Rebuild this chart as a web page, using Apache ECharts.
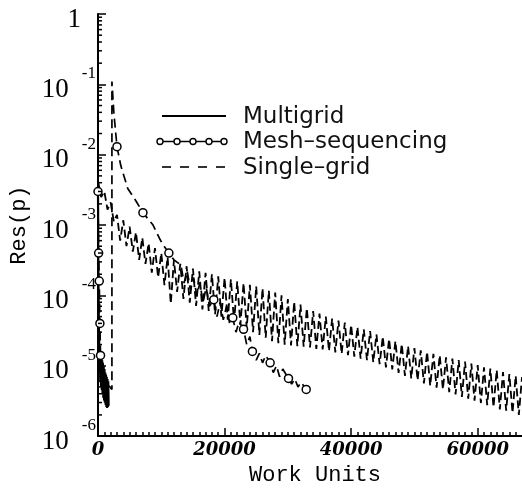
<!DOCTYPE html>
<html>
<head>
<meta charset="utf-8">
<script src="https://cdn.jsdelivr.net/npm/echarts@6/dist/echarts.min.js"></script>
<style>
  html, body { margin: 0; padding: 0; background: #fff; }
  #chart { width: 522px; height: 491px; }
</style>
</head>
<body>
<div id="chart"></div>
<script>
// work units vs residual
const multigrid = [
  [0, 3e-3], [40, 4e-4], [80, 1.5e-4], [120, 5e-5], [160, 2.5e-5], [220, 1.8e-5],
  [260, 8e-6], [300, 1.6e-5], [360, 6e-6], [420, 1.5e-5], [480, 5e-6], [540, 1.3e-5],
  [600, 4.5e-6], [660, 1.2e-5], [720, 4e-6], [780, 1.1e-5], [840, 3.5e-6], [900, 1e-5],
  [960, 3.2e-6], [1020, 9e-6], [1080, 3e-6], [1140, 8e-6], [1200, 2.8e-6], [1260, 7.5e-6],
  [1320, 2.6e-6], [1380, 7e-6], [1440, 2.5e-6], [1500, 6.5e-6], [1560, 2.6e-6], [1620, 6e-6],
  [1680, 2.7e-6]
];

// third column: 1 = draw a circle at this point
const meshSeq = [
  [0, 3e-3, 1], [100, 4e-4, 1], [200, 1.6e-4, 1], [300, 4e-5, 1], [400, 1.4e-5, 1],
  [700, 9e-6, 0], [1200, 6e-6, 0], [2200, 4.6e-6, 0], [2200, 1.1e-1, 0], [2500, 4e-2, 0],
  [3000, 1.3e-2, 1], [3600, 7e-3, 0], [4700, 3.3e-3, 0], [6000, 2.2e-3, 0], [7100, 1.5e-3, 1],
  [8700, 1e-3, 0], [9700, 6.5e-4, 0], [10300, 5.2e-4, 0], [11200, 4e-4, 1], [12000, 3.2e-4, 0],
  [13100, 2.7e-4, 0], [13600, 1.5e-4, 0], [14100, 2.2e-4, 0], [14600, 1.2e-4, 0], [15100, 1.8e-4, 0],
  [15600, 1e-4, 0], [16100, 1.5e-4, 0], [16600, 8e-5, 0], [17100, 1.3e-4, 0], [17600, 7e-5, 0],
  [18300, 8.7e-5, 1], [18800, 5e-5, 0], [19300, 8e-5, 0], [19800, 4.5e-5, 0], [20300, 7e-5, 0],
  [20800, 4e-5, 0], [21300, 4.8e-5, 1], [21800, 3e-5, 0], [22300, 4.2e-5, 0], [23000, 3.3e-5, 1],
  [23500, 2e-5, 0], [24000, 2.6e-5, 0], [24400, 1.6e-5, 1], [25000, 1.2e-5, 0], [25500, 1.5e-5, 0],
  [26000, 1.1e-5, 0], [26500, 1.4e-5, 0], [27200, 1.1e-5, 1], [27700, 8e-6, 0], [28200, 1e-5, 0],
  [28700, 7e-6, 0], [29200, 9e-6, 0], [30100, 6.6e-6, 1], [30600, 5.5e-6, 0], [31100, 6.5e-6, 0],
  [31600, 5e-6, 0], [32100, 5.8e-6, 0], [32900, 4.6e-6, 1]
];

const singleGrid = [
  [0, 4.2e-3], [500, 2.5e-3], [1000, 3.0e-3], [1500, 1.66e-3], [2000, 2.1e-3], [2500, 1.12e-3],
  [3000, 1.4e-3], [3500, 6.0e-4], [4000, 1.17e-3], [4500, 5.0e-4], [5000, 9.5e-4], [5500, 4.2e-4],
  [6000, 7.9e-4], [6500, 3.2e-4], [7000, 6.6e-4], [7500, 2.8e-4], [8000, 5.5e-4], [8500, 2.1e-4],
  [9000, 4.7e-4], [9500, 1.8e-4], [10000, 4.0e-4], [10500, 1.4e-4], [11000, 3.5e-4], [11500, 7.6e-5],
  [12000, 3.2e-4], [12500, 1.12e-4], [13000, 2.8e-4], [13500, 8.9e-5], [14000, 2.6e-4], [14500, 7.9e-5],
  [15000, 2.4e-4], [15500, 7.1e-5], [16000, 2.2e-4], [16500, 6.3e-5], [17000, 2.1e-4], [17500, 6.0e-5],
  [18000, 2.0e-4], [18500, 5.4e-5], [19000, 1.86e-4], [19500, 5.0e-5], [20000, 1.78e-4], [20500, 4.5e-5],
  [21000, 1.7e-4], [21500, 4.2e-5], [22000, 1.58e-4], [22500, 3.8e-5], [23000, 1.5e-4], [23500, 3.4e-5],
  [24000, 1.41e-4], [24500, 3.0e-5], [25000, 1.35e-4], [25500, 2.75e-5], [26000, 1.26e-4], [26500, 2.5e-5],
  [27000, 1.17e-4], [27500, 2.24e-5], [28000, 1.1e-4], [28500, 2.1e-5], [29000, 1.0e-4], [29500, 2.0e-5],
  [30000, 8.9e-5], [30500, 1.95e-5], [31000, 8.1e-5], [31500, 1.9e-5], [32000, 7.4e-5], [32500, 1.86e-5],
  [33000, 6.6e-5], [33500, 1.82e-5], [34000, 6.0e-5], [34500, 1.74e-5], [35000, 5.5e-5], [35500, 1.7e-5],
  [36000, 5.0e-5], [36500, 1.62e-5], [37000, 4.7e-5], [37500, 1.55e-5], [38000, 4.4e-5], [38500, 1.48e-5],
  [39000, 4.1e-5], [39500, 1.41e-5], [40000, 3.8e-5], [40500, 1.35e-5], [41000, 3.55e-5], [41500, 1.26e-5],
  [42000, 3.3e-5], [42500, 1.2e-5], [43000, 3.1e-5], [43500, 1.12e-5], [44000, 2.8e-5], [44500, 1.05e-5],
  [45000, 2.6e-5], [45500, 9.5e-6], [46000, 2.4e-5], [46500, 8.9e-6], [47000, 2.24e-5], [47500, 7.9e-6],
  [48000, 2.04e-5], [48500, 7.2e-6], [49000, 1.9e-5], [49500, 6.6e-6], [50000, 1.78e-5], [50500, 6.2e-6],
  [51000, 1.66e-5], [51500, 5.6e-6], [52000, 1.58e-5], [52500, 5.2e-6], [53000, 1.48e-5], [53500, 4.9e-6],
  [54000, 1.41e-5], [54500, 4.6e-6], [55000, 1.32e-5], [55500, 4.2e-6], [56000, 1.26e-5], [56500, 3.9e-6],
  [57000, 1.2e-5], [57500, 3.6e-6], [58000, 1.15e-5], [58500, 3.4e-6], [59000, 1.07e-5], [59500, 3.2e-6],
  [60000, 1.02e-5], [60500, 2.95e-6], [61000, 9.5e-6], [61500, 2.75e-6], [62000, 9.1e-6], [62500, 2.57e-6],
  [63000, 8.7e-6], [63500, 2.4e-6], [64000, 8.1e-6], [64500, 2.3e-6], [65000, 7.6e-6], [65500, 2.14e-6],
  [66000, 7.2e-6], [66500, 2.0e-6], [67000, 6.9e-6]
];

const seriesNames = ['Multigrid', 'Mesh\u2013sequencing', 'Single\u2013grid'];
const xTicks = [0, 20000, 40000, 60000];
const yDecades = [-6, -5, -4, -3, -2, -1, 0];

// minor ticks for the log axis: 2..9 within each decade
const yMinor = [];
yDecades.slice(0, -1).forEach(e => {
  for (let m = 2; m <= 9; m++) yMinor.push(m * Math.pow(10, e));
});

const chart = echarts.init(document.getElementById('chart'));

const legendTop = 116, legendStep = 25.5, lx0 = 162, lx1 = 226, tx = 243;
const legendText = (i) => ({
  type: 'text', x: tx, y: legendTop + i * legendStep + 1,
  style: { text: seriesNames[i], font: '23px "DejaVu Sans"', fill: '#111', verticalAlign: 'middle' }
});
const legendCircles = [160, 177, 193, 209, 224].map(cx => ({
  type: 'circle', shape: { cx: cx, cy: legendTop + legendStep, r: 3 },
  style: { fill: '#fff', stroke: '#000', lineWidth: 1.4 }, z: 101
}));

chart.setOption({
  animation: false,
  grid: { left: 97, right: 0, top: 14, bottom: 51 },
  xAxis: {
    type: 'value', min: 0, max: 67000, interval: 20000,
    name: 'Work Units', nameLocation: 'middle', nameGap: 20,
    nameTextStyle: { fontFamily: 'Liberation Mono', fontSize: 22, color: '#000', padding: [0, 0, 0, 10] },
    axisLine: { show: true, lineStyle: { color: '#000', width: 2 } },
    axisTick: { show: true, inside: true, length: 8, customValues: xTicks, lineStyle: { color: '#000', width: 1.5 } },
    minorTick: { show: true, splitNumber: 20, length: 4, lineStyle: { color: '#000', width: 1.5 } },
    splitLine: { show: false },
    axisLabel: {
      margin: 5, fontFamily: 'DejaVu Serif', fontStyle: 'italic', fontWeight: 'bold', fontSize: 18, color: '#000',
      customValues: xTicks, formatter: (v) => String(v)
    }
  },
  yAxis: {
    type: 'log', logBase: 10, min: 1e-6, max: 1,
    name: 'Res(p)', nameLocation: 'middle', nameGap: 68,
    nameTextStyle: { fontFamily: 'Liberation Mono', fontSize: 22, color: '#000' },
    axisLine: { show: true, lineStyle: { color: '#000', width: 2 } },
    axisTick: { show: true, inside: true, length: 8, lineStyle: { color: '#000', width: 1.5 } },
    splitLine: { show: false },
    axisLabel: {
      margin: 2, color: '#000',
      formatter: (v) => {
        const e = Math.round(Math.log10(v));
        if (e === 0) return '{one|1}';
        return '{b|10}{s|' + e + '}';
      },
      rich: {
        one: { fontFamily: 'Liberation Serif', fontSize: 27, lineHeight: 38, verticalAlign: 'bottom', padding: [0, 15, 0, 0] },
        b: { fontFamily: 'Liberation Serif', fontSize: 27, lineHeight: 38, verticalAlign: 'bottom' },
        s: { fontFamily: 'Liberation Serif', fontSize: 17, lineHeight: 38, verticalAlign: 'top', padding: [0, 0, 0, 13] }
      }
    }
  },
  graphic: [
    { type: 'line', shape: { x1: lx0, y1: legendTop, x2: lx1, y2: legendTop }, style: { stroke: '#000', lineWidth: 2 } },
    { type: 'line', shape: { x1: lx0, y1: legendTop + legendStep, x2: lx1, y2: legendTop + legendStep }, style: { stroke: '#000', lineWidth: 1.4 } },
    ...legendCircles,
    { type: 'line', shape: { x1: lx0, y1: legendTop + 2 * legendStep, x2: lx1, y2: legendTop + 2 * legendStep },
      style: { stroke: '#000', lineWidth: 1.6, lineDash: [9, 9] } },
    legendText(0), legendText(1), legendText(2)
  ],
  series: [
    {
      name: seriesNames[0], type: 'line', data: multigrid, symbol: 'none',
      lineStyle: { color: '#000', width: 2.2 }
    },
    {
      name: seriesNames[1], type: 'line', showAllSymbol: true,
      data: meshSeq.map(d => ({ value: [d[0], d[1]], symbol: d[2] ? 'circle' : 'none' })),
      symbolSize: 8,
      itemStyle: { color: '#fff', borderColor: '#000', borderWidth: 1.5 },
      lineStyle: { color: '#000', width: 1.7, type: [9, 5] }
    },
    {
      name: seriesNames[2], type: 'line', data: singleGrid, symbol: 'none',
      lineStyle: { color: '#000', width: 1.8, type: [8, 4] }
    },
    {
      type: 'custom', silent: true, clip: false, z: 5,
      data: yMinor,
      renderItem: (params, api) => {
        const p = api.coord([0, api.value(0)]);
        return { type: 'line', shape: { x1: p[0], y1: p[1], x2: p[0] + 4, y2: p[1] },
          style: { stroke: '#000', lineWidth: 1.5 } };
      },
      encode: { y: 0 }
    }
  ]
});
</script>
</body>
</html>
